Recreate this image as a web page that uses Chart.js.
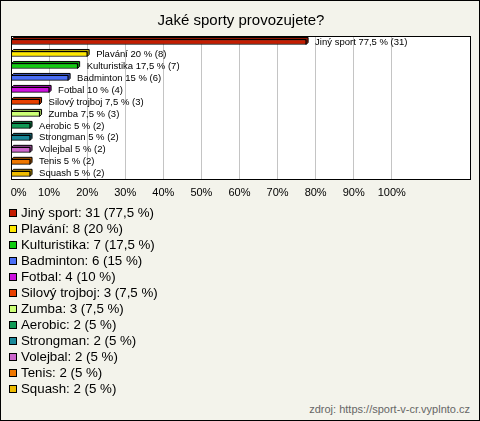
<!DOCTYPE html>
<html>
<head>
<meta charset="utf-8">
<script src="https://cdn.jsdelivr.net/npm/chart.js@4"></script>
<style>
  html, body { margin: 0; padding: 0; }
  #box {
    position: relative; width: 480px; height: 421px; box-sizing: border-box;
    border: 1px solid #000; background: #f3f3eb; overflow: hidden;
    font-family: Arial, "Liberation Sans", sans-serif;
  }
  #chartWrap { position: absolute; left: -1px; top: -1px; width: 480px; height: 207px; }
  #legend { position: absolute; left: 8px; top: 204px; }
  .item { height: 16px; line-height: 16px; font-size: 13.3px; color: #000; white-space: nowrap; }
  .sw { display: inline-block; width: 6px; height: 6px; border: 1px solid #000; margin-right: 4px; vertical-align: 0px; }
  #source { position: absolute; right: 9px; top: 402px; font-size: 11px; color: #666; }
</style>
</head>
<body>
<div id="box">
  <div id="chartWrap"><canvas id="sportChart"></canvas></div>
  <div id="legend"></div>
  <div id="source">zdroj: https://sport-v-cr.vyplnto.cz</div>
</div>
<script>
// --- data ---
const sports = ['Jiný sport', 'Plavání', 'Kulturistika', 'Badminton', 'Fotbal', 'Silový trojboj',
  'Zumba', 'Aerobic', 'Strongman', 'Volejbal', 'Tenis', 'Squash'];
const counts = [31, 8, 7, 6, 4, 3, 3, 2, 2, 2, 2, 2];
const percents = [77.5, 20, 17.5, 15, 10, 7.5, 7.5, 5, 5, 5, 5, 5];
const tickValues = [0, 10, 20, 30, 40, 50, 60, 70, 80, 90, 100];
const colors = ['#c41c00', '#ffe800', '#11cc11', '#4a6ef5', '#cc11dd', '#e84000',
  '#ccff77', '#119955', '#1a8899', '#cc66cc', '#ee7700', '#eebb00'];

const fmt = v => String(v).replace('.', ',');

// darker shade for the 3d back face
function darken(hex, f) {
  const n = parseInt(hex.slice(1), 16);
  const r = Math.round(((n >> 16) & 255) * f), g = Math.round(((n >> 8) & 255) * f), b = Math.round((n & 255) * f);
  return `rgb(${r},${g},${b})`;
}

// white plot area, black frame, 3d depth and the text next to each bar
const plotDecor = {
  id: 'plotDecor',
  beforeDraw(chart) {
    const a = chart.chartArea, ctx = chart.ctx;
    ctx.save();
    ctx.fillStyle = '#fff';
    ctx.fillRect(a.left, a.top, a.right - a.left, a.bottom - a.top);
    ctx.restore();
  },
  beforeDatasetsDraw(chart) {
    const ctx = chart.ctx;
    const meta = chart.getDatasetMeta(0);
    ctx.save();
    meta.data.forEach((bar, i) => {
      const top = bar.y - bar.height / 2, bottom = bar.y + bar.height / 2;
      const d = 2;
      ctx.beginPath();
      ctx.moveTo(bar.base, top);
      ctx.lineTo(bar.base + d, top - d);
      ctx.lineTo(bar.x + d, top - d);
      ctx.lineTo(bar.x + d, bottom - d);
      ctx.lineTo(bar.x, bottom);
      ctx.lineTo(bar.x, top);
      ctx.closePath();
      ctx.fillStyle = darken(colors[i], 0.75);
      ctx.fill();
      ctx.strokeStyle = '#000';
      ctx.lineWidth = 1;
      ctx.stroke();
    });
    ctx.restore();
  },
  afterDraw(chart) {
    const a = chart.chartArea, ctx = chart.ctx;
    ctx.save();
    ctx.strokeStyle = '#000';
    ctx.lineWidth = 1;
    ctx.strokeRect(Math.round(a.left) + 0.5, Math.round(a.top) + 0.5,
      Math.round(a.right - a.left) - 1, Math.round(a.bottom - a.top) - 1);
    ctx.fillStyle = '#000';
    ctx.font = '9.5px Arial, "Liberation Sans", sans-serif';
    ctx.textBaseline = 'middle';
    const meta = chart.getDatasetMeta(0);
    meta.data.forEach((bar, i) => {
      const txt = sports[i] + ' ' + fmt(percents[i]) + ' % (' + counts[i] + ')';
      ctx.fillText(txt, bar.x + 9, bar.y);
    });
    ctx.restore();
  }
};

const ctx = document.getElementById('sportChart').getContext('2d');
new Chart(ctx, {
  type: 'bar',
  data: {
    labels: sports,
    datasets: [{
      data: percents,
      backgroundColor: colors,
      borderColor: '#000',
      borderWidth: 1,
      barThickness: 5
    }]
  },
  options: {
    indexAxis: 'y',
    responsive: true,
    maintainAspectRatio: false,
    animation: false,
    layout: { padding: { left: 11, right: 9, top: 0, bottom: 0 } },
    scales: {
      x: {
        min: 0,
        max: 120.8,
        afterBuildTicks: axis => { axis.ticks = tickValues.map(v => ({ value: v })); },
        afterFit: axis => { axis.paddingLeft = 0; axis.paddingRight = 0; },
        border: { display: false },
        grid: { color: '#c4c4c4', drawTicks: false },
        ticks: {
          padding: 7,
          color: '#000',
          font: { family: 'Arial, "Liberation Sans", sans-serif', size: 11 },
          // the first label sits just inside the frame, as in the original
          callback: v => (v === 0 ? '     ' : '') + v + '%'
        }
      },
      y: { display: false }
    },
    plugins: {
      legend: { display: false },
      tooltip: { enabled: false },
      title: {
        display: true,
        text: 'Jaké sporty provozujete?',
        color: '#000',
        font: { family: 'Arial, "Liberation Sans", sans-serif', size: 15, weight: 'normal', lineHeight: 1.2 },
        padding: { top: 12, bottom: 6 }
      }
    }
  },
  plugins: [plotDecor]
});

// legend list below the chart
const legend = document.getElementById('legend');
sports.forEach((s, i) => {
  const row = document.createElement('div');
  row.className = 'item';
  row.innerHTML = `<span class="sw" style="background:${colors[i]}"></span>${s}: ${counts[i]} (${fmt(percents[i])} %)`;
  legend.appendChild(row);
});
</script>
</body>
</html>
